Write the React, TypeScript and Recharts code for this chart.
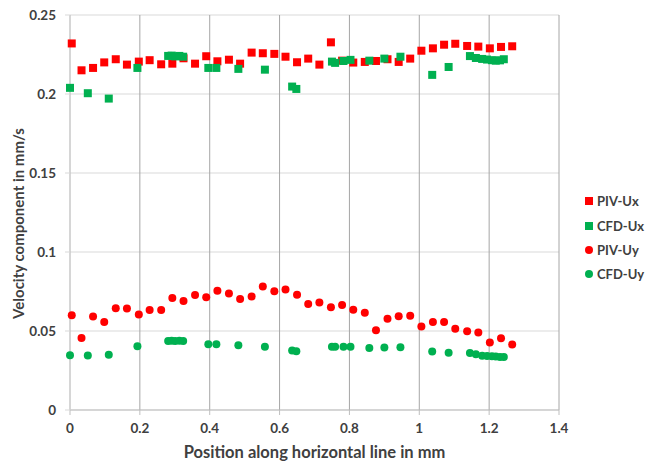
import {
  CartesianGrid,
  Label,
  Legend,
  Scatter,
  ScatterChart,
  XAxis,
  YAxis,
} from "recharts";

// PIV samples: position along the line (mm) and velocity components (mm/s)
const pivPositions = [
  0.005, 0.033, 0.066, 0.098, 0.131, 0.163, 0.197, 0.228, 0.261, 0.293,
  0.325, 0.358, 0.39, 0.422, 0.455, 0.487, 0.52, 0.552, 0.585, 0.617,
  0.65, 0.682, 0.714, 0.747, 0.779, 0.811, 0.844, 0.876, 0.909, 0.941,
  0.974, 1.006, 1.039, 1.071, 1.103, 1.137, 1.169, 1.202, 1.234, 1.266,
];
const pivUx = [
  0.232, 0.215, 0.2165, 0.22, 0.222, 0.2186, 0.2205, 0.2214, 0.2188, 0.2192,
  0.2226, 0.2192, 0.2239, 0.2207, 0.2217, 0.2192, 0.2262, 0.2258, 0.2254, 0.2236,
  0.2201, 0.2224, 0.2186, 0.2327, 0.2211, 0.2199, 0.2203, 0.2209, 0.222, 0.2203,
  0.2224, 0.2274, 0.2289, 0.2312, 0.2318, 0.2304, 0.23, 0.2289, 0.2298, 0.2302,
];
const pivUy = [
  0.0599, 0.0456, 0.0591, 0.0557, 0.0644, 0.0642, 0.0604, 0.0633, 0.0633, 0.0709,
  0.069, 0.0728, 0.0713, 0.0755, 0.0738, 0.0703, 0.0719, 0.0781, 0.0751, 0.0762,
  0.073, 0.0671, 0.0681, 0.065, 0.0665, 0.0635, 0.0616, 0.0505, 0.0578, 0.0593,
  0.0597, 0.0528, 0.0557, 0.0557, 0.0515, 0.0498, 0.049, 0.0427, 0.0454, 0.0414,
];

// CFD samples
const cfdPositions = [
  0.0, 0.051, 0.111, 0.193, 0.281, 0.291, 0.301, 0.313, 0.324, 0.396,
  0.419, 0.482, 0.558, 0.636, 0.648, 0.75, 0.759, 0.783, 0.803, 0.857,
  0.9, 0.946, 1.037, 1.084, 1.145, 1.162, 1.18, 1.194, 1.208, 1.219,
  1.231, 1.242,
];
const cfdUx = [
  0.2039, 0.2005, 0.1971, 0.2165, 0.2241, 0.2243, 0.2238, 0.2241, 0.2236, 0.2165,
  0.2165, 0.2159, 0.2154, 0.2047, 0.2032, 0.2205, 0.2197, 0.2209, 0.2216, 0.2211,
  0.2224, 0.2236, 0.2121, 0.2171, 0.224, 0.2228, 0.2222, 0.2218, 0.2214, 0.2211,
  0.2213, 0.222,
];
const cfdUy = [
  0.0347, 0.0345, 0.0349, 0.0403, 0.0437, 0.0438, 0.0437, 0.0438, 0.0436, 0.0416,
  0.0416, 0.041, 0.0401, 0.0376, 0.0372, 0.0401, 0.04, 0.04, 0.04, 0.0393,
  0.0395, 0.0397, 0.037, 0.0363, 0.036, 0.0353, 0.0343, 0.0341, 0.034, 0.0338,
  0.0336, 0.0335,
];

const xTicks = [0, 0.2, 0.4, 0.6, 0.8, 1, 1.2, 1.4];
const yTicks = [0, 0.05, 0.1, 0.15, 0.2, 0.25];

const RED = "#ff0000";
const GREEN = "#00b050";
const TEXT = "#404040";
const FONT = "Lato, 'Open Sans', sans-serif";

const series = [
  { name: "PIV-Ux", color: RED, marker: "square", data: toPoints(pivPositions, pivUx) },
  { name: "CFD-Ux", color: GREEN, marker: "square", data: toPoints(cfdPositions, cfdUx) },
  { name: "PIV-Uy", color: RED, marker: "circle", data: toPoints(pivPositions, pivUy) },
  { name: "CFD-Uy", color: GREEN, marker: "circle", data: toPoints(cfdPositions, cfdUy) },
];

function toPoints(xs: number[], ys: number[]) {
  return xs.map((x, i) => ({ x, y: ys[i] }));
}

function markerShape(kind: string, fill: string) {
  return (p: any) =>
    kind === "square" ? (
      <rect x={p.cx - 4} y={p.cy - 4} width={8} height={8} fill={fill} />
    ) : (
      <circle cx={p.cx} cy={p.cy} r={4} fill={fill} />
    );
}

function LegendBox() {
  return (
    <div
      style={{
        fontFamily: FONT,
        fontWeight: 700,
        fontSize: 13,
        color: TEXT,
        whiteSpace: "nowrap",
      }}
    >
      {series.map((s) => (
        <div
          key={s.name}
          style={{ display: "flex", alignItems: "center", height: 24.4 }}
        >
          <svg
            width={10}
            height={10}
            style={{ marginRight: 3, flexShrink: 0 }}
          >
            {s.marker === "square" ? (
              <rect x={1} y={1} width={8} height={8} fill={s.color} />
            ) : (
              <circle cx={5} cy={5} r={4} fill={s.color} />
            )}
          </svg>
          <span>{s.name}</span>
        </div>
      ))}
    </div>
  );
}

export default function App() {
  const tick = { fontSize: 13.5, fontWeight: 700, fill: TEXT, fontFamily: FONT };
  return (
    <div style={{ position: "absolute", left: 0, top: 0 }}>
      <ScatterChart
        width={647}
        height={465}
        margin={{ top: 15, right: 88, bottom: 0, left: 0 }}
      >
        <CartesianGrid horizontal vertical={false} stroke="#d9d9d9" />
        <CartesianGrid horizontal={false} vertical stroke="#a6a6a6" />
        <XAxis
          type="number"
          dataKey="x"
          domain={[0, 1.4]}
          ticks={xTicks}
          interval={0}
          height={55}
          tickSize={5}
          tickMargin={8}
          stroke="#bfbfbf"
          tick={tick}
        >
          <Label
            content={({ viewBox }: any) => (
              <text
                x={viewBox.x + viewBox.width / 2}
                y={viewBox.y + 42}
                textAnchor="middle"
                dominantBaseline="central"
                fontFamily={FONT}
                fontWeight={700}
                fontSize={16.5}
                fill={TEXT}
              >
                Position along horizontal line in mm
              </text>
            )}
          />
        </XAxis>
        <YAxis
          type="number"
          dataKey="y"
          domain={[0, 0.25]}
          ticks={yTicks}
          interval={0}
          width={70}
          tickSize={5}
          tickMargin={9}
          stroke="#d9d9d9"
          tick={tick}
          tickFormatter={(v: number) => String(v)}
        >
          <Label
            content={({ viewBox }: any) => {
              const cx = viewBox.x + 18;
              const cy = viewBox.y + viewBox.height / 2 + 11;
              return (
                <text
                  x={cx}
                  y={cy}
                  transform={`rotate(-90 ${cx} ${cy})`}
                  textAnchor="middle"
                  dominantBaseline="central"
                  fontFamily={FONT}
                  fontWeight={700}
                  fontSize={15}
                  fill={TEXT}
                >
                  Velocity component in mm/s
                </text>
              );
            }}
          />
        </YAxis>
        <Legend
          layout="vertical"
          align="center"
          verticalAlign="middle"
          content={() => <LegendBox />}
          wrapperStyle={{ left: 584, top: 189, width: 62 }}
        />
        {series.map((s) => (
          <Scatter
            key={s.name}
            name={s.name}
            data={s.data}
            fill={s.color}
            shape={markerShape(s.marker, s.color)}
            isAnimationActive={false}
          />
        ))}
      </ScatterChart>
    </div>
  );
}
